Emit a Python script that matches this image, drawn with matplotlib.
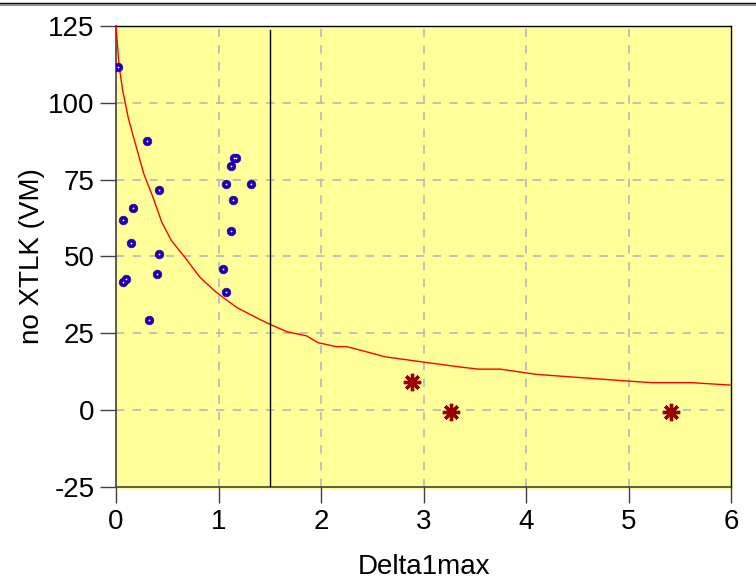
import matplotlib
matplotlib.use("Agg")
import matplotlib.pyplot as plt
from matplotlib.lines import Line2D
from matplotlib.patches import Rectangle

plt.rcParams['font.family'] = ['Liberation Sans', 'DejaVu Sans']

# Data
curve_x = [0.0, 0.03, 0.065, 0.12, 0.17, 0.27, 0.36, 0.446, 0.54, 0.67, 0.82, 0.98,
           1.18, 1.40, 1.50, 1.665, 1.86, 1.97, 2.15, 2.25, 2.38, 2.625, 3.0, 3.356,
           3.535, 3.75, 4.10, 4.98, 5.23, 5.62, 6.0]
curve_y = [125, 112, 104, 95, 88.9, 77, 69.3, 61.2, 55.2, 49.8, 43.2, 38.3,
           33.4, 29.6, 28.0, 25.6, 24.2, 22.0, 20.7, 20.7, 19.6, 17.4, 15.7, 14.1,
           13.4, 13.4, 11.7, 9.55, 9.0, 9.0, 8.2]

blue_x = [0.022, 0.30, 0.42, 0.17, 0.07, 0.146, 0.42, 0.40, 0.098, 0.065, 0.32,
          1.154, 1.17, 1.12, 1.07, 1.32, 1.145, 1.12, 1.044, 1.07]
blue_y = [111.7, 87.6, 71.7, 65.9, 61.8, 54.4, 50.9, 44.3, 42.7, 41.8, 29.4,
          81.9, 81.9, 79.3, 73.5, 73.5, 68.4, 58.4, 46.0, 38.5]

star_x = [2.89, 3.265, 5.415]
star_y = [9.3, -0.6, -0.6]

vline_x = 1.5
vline_top = 123.6

x_ticks = [0, 1, 2, 3, 4, 5, 6]
y_ticks = [-25, 0, 25, 50, 75, 100, 125]
x_label = "Delta1max"
y_label = "no XTLK (VM)"

W, H = 756, 579
fig = plt.figure(figsize=(W / 100, H / 100), dpi=100)
fig.patch.set_facecolor('white')

left, right, top, bottom = 116, 731, 25.7, 487.3

# slightly offset yellow backdrop
bg = fig.add_axes([(left + 2) / W, 1 - (bottom + 2.5) / H, (right - left) / W, (bottom - top) / H])
bg.set_facecolor('#ffff99')
bg.set_axis_off()
bg.add_patch(Rectangle((0, 0), 1, 1, transform=bg.transAxes, facecolor='#ffff99',
                       edgecolor='none'))
bg.set_zorder(0)

ax = fig.add_axes([left / W, 1 - bottom / H, (right - left) / W, (bottom - top) / H])
ax.set_zorder(1)
ax.set_facecolor('#ffff99')

ax.set_xlim(0, 6)
ax.set_ylim(-25, 125)
ax.set_xticks(x_ticks)
ax.set_yticks(y_ticks)
ax.set_xticklabels([str(v) for v in x_ticks])
ax.set_yticklabels([str(v) for v in y_ticks])

for v in x_ticks[1:-1]:
    ax.axvline(v, color='#b8b8b8', lw=1.2, ls=(0, (5, 5)), zorder=1)
for v in y_ticks[1:-1]:
    ax.axhline(v, color='#b8b8b8', lw=1.2, ls=(0, (5, 5)), zorder=1)

ax.plot(curve_x, curve_y, color='#ff0000', lw=1.0, zorder=3, clip_on=True)
ax.plot([vline_x, vline_x], [-25, vline_top], color='black', lw=1.0, zorder=3)

ax.plot(blue_x, blue_y, ls='none', marker='o', markersize=6.2,
        markerfacecolor='#2000b0', markeredgecolor='#2000b0', markeredgewidth=0.5, zorder=4)
ax.plot(blue_x, blue_y, ls='none', marker='o', markersize=1.3,
        markerfacecolor='white', markeredgecolor='none', zorder=5)
ax.plot(star_x, star_y, ls='none', marker=(8, 2, 0), markersize=12.5,
        markeredgecolor='#990000', markeredgewidth=2.4, zorder=4)

for s in ['top', 'right']:
    ax.spines[s].set_color('black')
    ax.spines[s].set_linewidth(1.0)
for s in ['left', 'bottom']:
    ax.spines[s].set_color('#404040')
    ax.spines[s].set_linewidth(1.2)

ax.tick_params(axis='both', direction='out', length=11.5, width=1, color='#404040',
               labelsize=20, pad=4)
ax.set_xlabel(x_label, fontsize=20, labelpad=14)
ax.set_ylabel(y_label, fontsize=20, labelpad=2)

# double line at top of figure
fig.add_artist(Line2D([0, 1], [1 - 3.3 / H, 1 - 3.3 / H], transform=fig.transFigure,
                      color='black', lw=1.0))
fig.add_artist(Line2D([0, 1], [1 - 5.3 / H, 1 - 5.3 / H], transform=fig.transFigure,
                      color='#909090', lw=1.5))

fig.savefig('out.png', dpi=100, facecolor='white')
